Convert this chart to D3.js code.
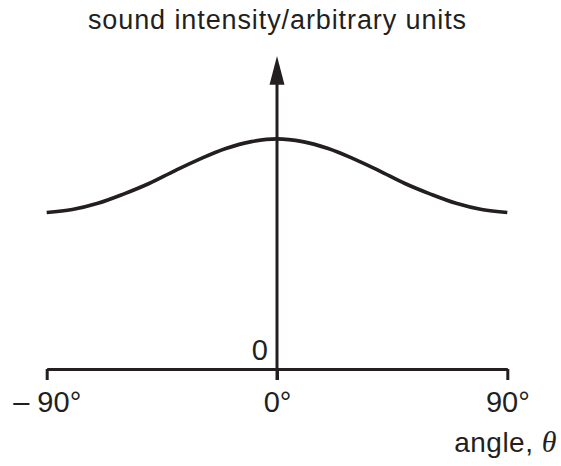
<!DOCTYPE html>
<html>
<head>
<meta charset="utf-8">
<script src="https://cdnjs.cloudflare.com/ajax/libs/d3/7.8.5/d3.min.js"></script>
<style>
  body { margin: 0; background: #fff; }
  svg { display: block; font-family: "Liberation Sans", Arial, Helvetica, sans-serif; }
  .curve { fill: none; stroke: #231f20; stroke-width: 3.6; }
  .x-axis path, .x-axis line, .y-line { stroke: #231f20; stroke-width: 3; }
  .x-axis text { font-size: 29px; fill: #231f20; font-family: "Liberation Sans", Arial, sans-serif; }
  .label { fill: #231f20; }
</style>
</head>
<body>
<svg width="561" height="466"></svg>
<script>
// intensity pattern (arbitrary units, peak = 1)
var angles = [-90, -80, -70, -60, -50, -40, -30, -20, -10, 0, 10, 20, 30, 40, 50, 60, 70, 80, 90];
var intensity = [0.68, 0.693, 0.72, 0.76, 0.806, 0.861, 0.913, 0.958, 0.988, 1.0,
                 0.988, 0.958, 0.913, 0.861, 0.806, 0.76, 0.72, 0.693, 0.68];
var tickAngles = [-90, 0, 90];
var tickLabels = ["\u2013 90\u00b0", "0\u00b0", "90\u00b0"];

var svg = d3.select("svg"),
    ink = "#231f20";

var x = d3.scaleLinear()
    .domain([-90, 90])
    .range([46.7, 507.3]);

var y = d3.scaleLinear()
    .domain([0, 1.36])
    .range([369, 56]);

var line = d3.line()
    .x(function(d, i) { return x(angles[i]); })
    .y(function(d) { return y(d); })
    .curve(d3.curveCatmullRom.alpha(0.5));

// x axis with the three angle ticks
var xAxis = d3.axisBottom(x)
    .tickValues(tickAngles)
    .tickFormat(function(d, i) { return tickLabels[i]; })
    .tickSize(11)
    .tickSizeOuter(0)
    .tickPadding(11);

svg.append("g")
    .attr("class", "x-axis")
    .attr("transform", "translate(0," + y(0) + ")")
    .call(xAxis)
    .call(function(g) { g.selectAll("text").attr("fill", ink); });

// vertical intensity axis with arrow head
svg.append("line")
    .attr("class", "y-line")
    .attr("x1", x(0)).attr("x2", x(0))
    .attr("y1", y(0) + 11)
    .attr("y2", y(1.24));

svg.append("path")
    .attr("fill", ink)
    .attr("d", "M" + x(0) + "," + y(1.36) +
               "L" + (x(0) + 7.5) + "," + y(1.235) +
               "L" + (x(0) - 7.5) + "," + y(1.235) + "Z");

svg.append("path")
    .datum(intensity)
    .attr("class", "curve")
    .attr("d", line);

svg.append("text")
    .attr("class", "label")
    .attr("x", x(0) - 9)
    .attr("y", y(0) - 9)
    .attr("text-anchor", "end")
    .style("font-size", "29px")
    .text("0");

svg.append("text")
    .attr("class", "label")
    .attr("x", 277.5)
    .attr("y", 29.3)
    .attr("text-anchor", "middle")
    .style("font-size", "27px")
    .style("letter-spacing", "0.9px")
    .text("sound intensity/arbitrary units");

var ang = svg.append("text")
    .attr("class", "label")
    .attr("x", 557)
    .attr("y", 451.7)
    .attr("text-anchor", "end")
    .style("font-size", "28px")
    .style("letter-spacing", "0.5px");
ang.append("tspan").text("angle, ");
ang.append("tspan")
    .style("font-family", "'Liberation Serif', 'Times New Roman', serif")
    .style("font-style", "italic")
    .style("font-size", "30px")
    .text("\u03b8");
</script>
</body>
</html>
